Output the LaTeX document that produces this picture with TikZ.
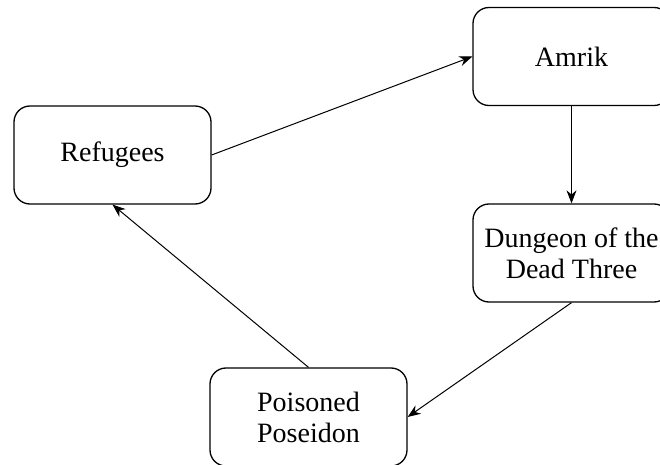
\documentclass[tikz,border=0pt]{standalone}
\usepackage{fontspec}
\setmainfont{Liberation Serif}
\usetikzlibrary{arrows.meta}

\begin{document}
\begin{tikzpicture}
                [x=0.5pt, y=-0.5pt, >={Stealth[length=6.5pt,width=5pt]},
                place/.style={draw, line width=0.65pt, rounded corners=8pt,
                    minimum width=98.5pt, minimum height=49pt, align=center,
                    font=\fontsize{14}{15.5}\selectfont},
                link/.style={->, line width=0.5pt},
                ]
                \useasboundingbox (0,0) rectangle (660,465);

                \node[place] (refugees) at (112.5,155) {Refugees};
                \node[place] (amrik) at (571.5,56.5) {Amrik};
                \node[place] (dungeon) at (571.5,253) {Dungeon of the\\Dead Three};
                \node[place] (poseidon) at (308.5,417) {Poisoned\\Poseidon};

                \draw[link] (refugees.east) -- (amrik.west);
                \draw[link] (amrik.south) -- (dungeon.north);
                \draw[link] (dungeon.south) -- (poseidon.east);
                \draw[link] (poseidon.north) -- (refugees.south);
            \end{tikzpicture}
\end{document}
